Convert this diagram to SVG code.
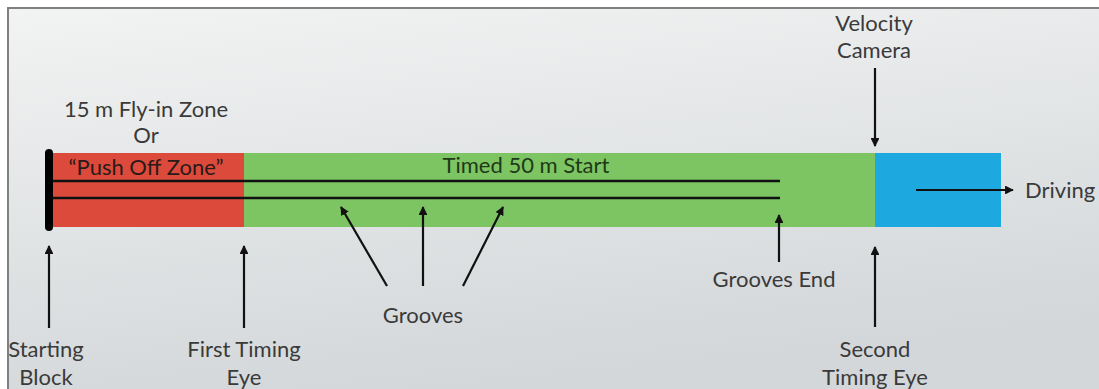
<svg xmlns="http://www.w3.org/2000/svg" width="1099" height="389" viewBox="0 0 1099 389">
<defs>
<linearGradient id="bg" x1="0" y1="0" x2="0.3" y2="1">
<stop offset="0" stop-color="#f2f3f3"/>
<stop offset="1" stop-color="#d3d7d9"/>
</linearGradient>
<marker id="ah" viewBox="0 0 10 10" refX="9" refY="5" markerWidth="4" markerHeight="4" orient="auto" markerUnits="strokeWidth">
<path d="M0,0 L10,5 L0,10 z" fill="#111"/>
</marker>
<style>
.t{font-family:Lato,"Open Sans",sans-serif;font-size:22px;fill:#3a3a3a;text-anchor:middle}
.c{stroke:#111;stroke-width:2.2;fill:none;marker-end:url(#ah)}
.g{stroke:#111;stroke-width:2.5}
</style>
</defs>
<rect x="0" y="0" width="1099" height="389" fill="#ffffff"/>
<rect x="8" y="8" width="1100" height="390" fill="url(#bg)" stroke="#808080" stroke-width="2"/>
<g id="pushoff">
<rect x="52" y="153" width="192" height="74" fill="#dc4a3c"/>
<text class="t" x="146" y="117">15 m Fly-in Zone</text>
<text class="t" x="146" y="143">Or</text>
<text class="t" x="146" y="175" style="fill:#2a1a18">“Push Off Zone”</text>
</g>
<g id="timed">
<rect x="244" y="153" width="631" height="74" fill="#7dc462"/>
<text class="t" x="526" y="173" style="fill:#1e3a18">Timed 50 m Start</text>
</g>
<g id="driving-zone">
<rect x="875" y="153" width="126" height="74" fill="#1ea8e0"/>
</g>
<g id="grooves-lines">
<line class="g" x1="52" y1="181" x2="780" y2="181"/>
<line class="g" x1="52" y1="198" x2="780" y2="198"/>
</g>
<g id="starting-block">
<rect x="45" y="149" width="8" height="82" rx="4" fill="#000"/>
<text class="t" x="46" y="357">Starting</text>
<text class="t" x="46" y="385">Block</text>
</g>
<g id="first-eye">
<text class="t" x="244" y="357">First Timing</text>
<text class="t" x="244" y="385">Eye</text>
</g>
<g id="grooves-label">
<text class="t" x="423" y="323">Grooves</text>
</g>
<g id="grooves-end">
<text class="t" x="774" y="287">Grooves End</text>
</g>
<g id="second-eye">
<text class="t" x="875" y="357">Second</text>
<text class="t" x="875" y="385">Timing Eye</text>
</g>
<g id="camera">
<text class="t" x="874" y="31">Velocity</text>
<text class="t" x="874" y="58">Camera</text>
</g>
<g id="driving">
<text class="t" x="1025" y="198" style="text-anchor:start">Driving</text>
</g>
<g id="connectors">
<line class="c" x1="49" y1="328" x2="49" y2="246"/>
<line class="c" x1="244" y1="328" x2="244" y2="246"/>
<line class="c" x1="387" y1="286" x2="341" y2="207"/>
<line class="c" x1="423" y1="286" x2="423" y2="207"/>
<line class="c" x1="463" y1="286" x2="503" y2="207"/>
<line class="c" x1="779" y1="262" x2="779" y2="215"/>
<line class="c" x1="875" y1="327" x2="875" y2="247"/>
<line class="c" x1="875" y1="68" x2="875" y2="146"/>
<line class="c" x1="916" y1="190" x2="1013" y2="190"/>
</g>
</svg>
